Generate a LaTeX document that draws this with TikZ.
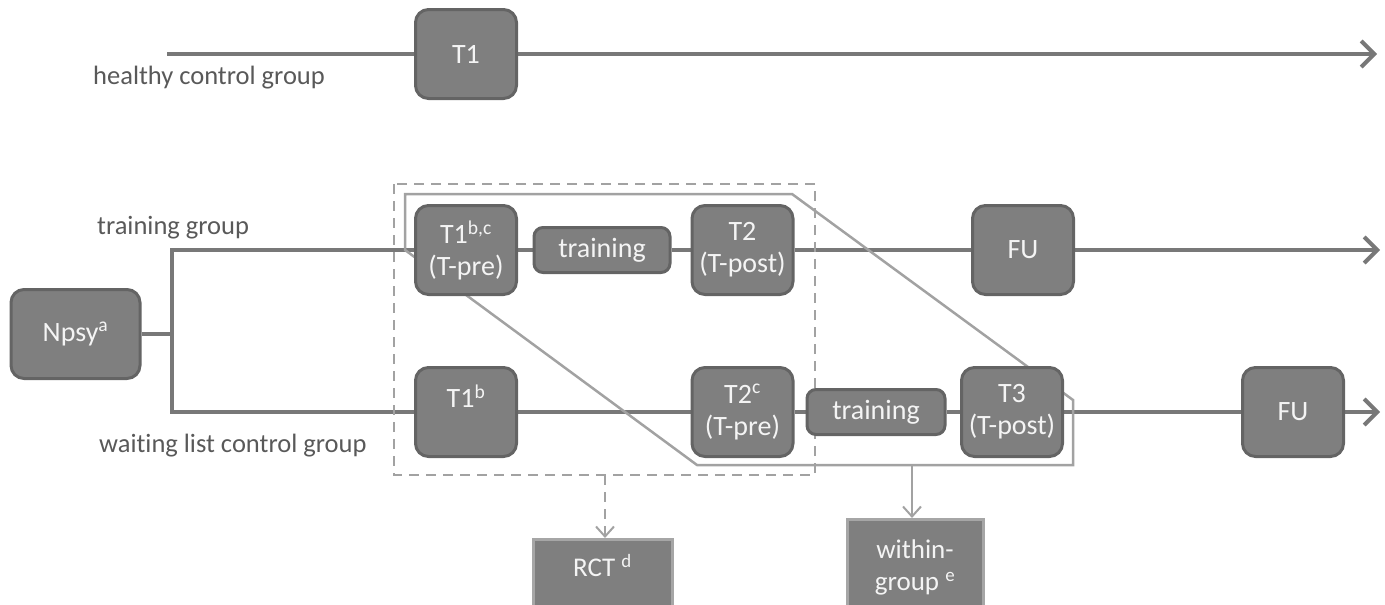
\documentclass[tikz,border=0pt]{standalone}
\usepackage{fontspec}
\setmainfont{Carlito}[Ligatures=NoCommon]
\usetikzlibrary{arrows.meta,backgrounds}

\definecolor{boxgray}{RGB}{127,127,127}
\definecolor{rimgray}{RGB}{100,100,100}
\definecolor{flowgray}{RGB}{120,120,120}
\definecolor{framegray}{RGB}{162,162,162}
\definecolor{resultrim}{RGB}{166,166,166}
\definecolor{boxtext}{RGB}{244,244,244}
\definecolor{labelgray}{RGB}{89,89,89}

\begin{document}
\begin{tikzpicture}[x=1pt,y=-1pt,
    stage/.style={draw=rimgray,fill=boxgray,line width=3pt,rounded corners=13pt,
        text=boxtext,align=center,inner sep=0pt,
        font=\fontsize{28}{32}\selectfont,minimum width=101pt,minimum height=89pt},
    phase/.style={stage,rounded corners=9pt,minimum width=136pt,minimum height=45pt},
    result/.style={draw=resultrim,fill=boxgray,line width=3pt,text=boxtext,align=center,
        inner sep=0pt,font=\fontsize{27}{32}\selectfont,anchor=north},
    group/.style={text=labelgray,font=\fontsize{26.5}{31}\selectfont,anchor=base west,inner sep=0pt},
    flow/.style={draw=flowgray,line width=4.5pt},
    flowarrow/.style={flow,-{Straight Barb[length=13pt,width=26pt,line width=4pt]}},
    frame/.style={draw=framegray,line width=2.5pt},
    frameline/.style={frame,-{Straight Barb[length=10pt,width=18pt,line width=2pt]}}]
\useasboundingbox (0,0) rectangle (1385,605);
\clip (0,0) rectangle (1385,605);

% healthy control group
\node[stage] (hc1) at (466,54) {T1};
\coordinate (hcstart) at (167,54);
\coordinate (hcend) at (1377,54);
\node[group] (hclabel) at (93,84) {healthy control group};

% randomisation
\node[stage,minimum width=129pt] (npsy) at (75.5,334) {Npsy\textsuperscript{a}};
\coordinate (split) at (172,334);
\coordinate (tgstart) at (172,250);
\coordinate (wlstart) at (172,412);

% training group
\node[stage] (tg1) at (466,250) {T1\textsuperscript{b,c}\\(T-pre)};
\node[phase] (tgtrain) at (602,250) {training};
\node[stage] (tg2) at (742.5,250) {T2\\(T-post)};
\node[stage] (tgfu) at (1023,250) {FU};
\coordinate (tgend) at (1380,250);
\node[group] (tglabel) at (97,234) {training group};

% waiting list control group
\node[stage] (wl1) at (466,412) {T1\textsuperscript{b}\\\mbox{}};
\node[stage] (wl2) at (742.5,412) {T2\textsuperscript{c}\\(T-pre)};
\node[phase,minimum width=138pt] (wltrain) at (876,412) {training};
\node[stage] (wl3) at (1012,412) {T3\\(T-post)};
\node[stage] (wlfu) at (1293,412) {FU};
\coordinate (wlend) at (1380,412);
\node[group] (wllabel) at (99,452) {waiting list control group};

% analyses
\node[result,minimum width=139pt,minimum height=84pt] (rct) at (602.5,538)
    {RCT \textsuperscript{d}\\\mbox{}};
\node[result,minimum width=136pt,minimum height=124pt] (within) at (915,518)
    {within-\\group \textsuperscript{e}\\\mbox{}};

\begin{scope}[on background layer]
  \draw[flowarrow] (hcstart) -- (hc1.west) (hc1.east) -- (hcend);
  \draw[flow] (npsy.east) -- (split);
  \draw[flow,line join=miter] (tg1.west) -- (tgstart) -- (wlstart) -- (wl1.west);
  \draw[flow] (tg1.east) -- (tgtrain.west) (tgtrain.east) -- (tg2.west)
      (tg2.east) -- (tgfu.west);
  \draw[flowarrow] (tgfu.east) -- (tgend);
  \draw[flow] (wl1.east) -- (wl2.west) (wl2.east) -- (wltrain.west)
      (wltrain.east) -- (wl3.west) (wl3.east) -- (wlfu.west);
  \draw[flowarrow] (wlfu.east) -- (wlend);
  % within-group outline
  \coordinate (wgtop) at (405,194);
  \draw[frame] (wgtop) -- (792,194) -- (1073,400) -- (1073,465)
      -- (697,465) -- (405,250) -- cycle;
  % RCT outline
  \draw[frame,dash pattern=on 10pt off 7pt] (394,184) rectangle (815,475);
\end{scope}

\coordinate (rctout) at (605,475);
\coordinate (wgout) at (912,465);
\draw[frameline,dash pattern=on 10pt off 7pt] (rctout) -- (rctout |- rct.north);
\draw[frameline] (wgout) -- (wgout |- within.north);
\end{tikzpicture}
\end{document}
